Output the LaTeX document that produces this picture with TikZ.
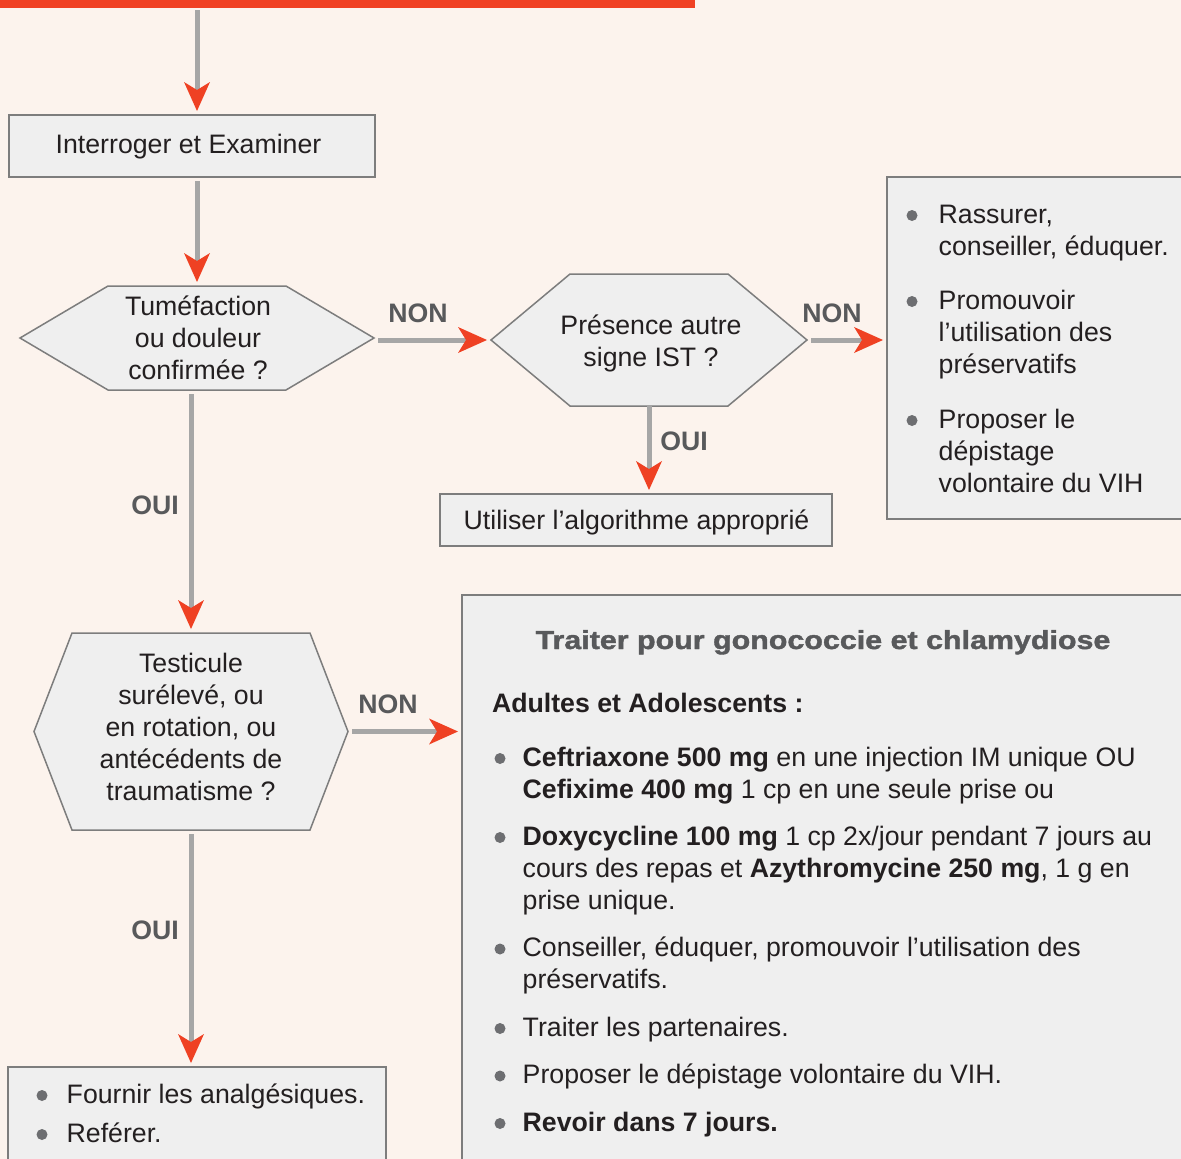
\documentclass[tikz,border=0pt]{standalone}
\usepackage{fontspec}
\setmainfont{Liberation Sans}
\newfontfamily\titlefont{Liberation Sans}[FakeStretch=1.17,BoldFeatures={FakeBold=1.5}]
\usetikzlibrary{arrows.meta,calc}

\definecolor{pagebg}{RGB}{252,243,237}
\definecolor{headred}{RGB}{240,65,36}
\definecolor{tipred}{RGB}{239,65,35}
\definecolor{linegray}{RGB}{166,166,166}
\definecolor{boxfill}{RGB}{239,239,239}
\definecolor{boxline}{RGB}{125,125,125}
\definecolor{ink}{RGB}{35,31,32}
\definecolor{labelgray}{RGB}{88,89,91}
\definecolor{bulletgray}{RGB}{109,110,113}

% list bullet: grey dot in a box of the given width
\newcommand\bul[1]{\makebox[#1][l]{\begin{tikzpicture}[baseline=0pt]
  \fill[bulletgray] (0pt,7.5pt) ++(5.5pt,0pt) circle[x radius=5.5pt, y radius=5.5pt];
  \end{tikzpicture}}}

% hexagonal decision outline drawn on the bounding node
\newcommand\hexa[2]{%
  \draw[hexline] (#1.west) -- ($(#1.north west)+(#2,0)$) -- ($(#1.north east)+(-#2,0)$)
    -- (#1.east) -- ($(#1.south east)+(-#2,0)$) -- ($(#1.south west)+(#2,0)$) -- cycle;}

\newcommand\bodysize{\fontsize{26.7}{32}\selectfont}

\begin{document}
\begin{tikzpicture}[x=1pt,y=-1pt,
  box/.style={draw=boxline, fill=boxfill, line width=1.5pt, inner sep=0pt, outer sep=0pt},
  frame/.style={inner sep=0pt, outer sep=0pt},
  hexline/.style={draw=boxline, fill=boxfill, line width=1.5pt, line join=miter},
  txt/.style={inner sep=0pt, outer sep=0pt, text=ink, font=\bodysize},
  lbl/.style={inner sep=0pt, text=labelgray, font=\bfseries\bodysize, anchor=base},
  conn/.style={draw=linegray, line width=5pt, shorten <=4pt, shorten >=4pt,
    -{Stealth[length=29pt,width=26pt,inset=8pt,color=tipred,line width=0pt]}},
]
\useasboundingbox (0,0) rectangle (1181,1159);
\clip (0,0) rectangle (1181,1159);
\fill[pagebg] (0,0) rectangle (1181,1159);
\fill[headred] (0,0) rectangle (695,7.5);

% ---- rectangular boxes
\node[box, minimum width=366pt, minimum height=62pt] (exam) at (192,146) {};
\node[txt, anchor=base] (examt) at (188.5,153) {Interroger et Examiner};

\node[box, minimum width=392pt, minimum height=52pt] (algo) at (636,520) {};
\node[txt, anchor=base] (algot) at (636.5,529) {Utiliser l’algorithme approprié};

\node[box, minimum width=303pt, minimum height=342pt] (calm) at (1038.5,348) {};
\node[box, minimum width=728pt, minimum height=575pt] (treat) at (826,882.5) {};
\node[box, minimum width=378pt, minimum height=103pt] (pain) at (197,1118.5) {};

% ---- decision hexagons
\node[frame, minimum width=354pt, minimum height=104pt] (q1) at (197,338) {};
\hexa{q1}{88}
\node[txt, anchor=base] (q1t) at (198,315) {\begin{tabular}[t]{@{}c@{}}Tuméfaction\\ ou douleur\\ confirmée ?\end{tabular}};

\node[frame, minimum width=316pt, minimum height=132pt] (q2) at (649,340) {};
\hexa{q2}{79}
\node[txt, anchor=base] (q2t) at (651,334) {\begin{tabular}[t]{@{}c@{}}Présence autre\\ signe IST ?\end{tabular}};

\node[frame, minimum width=314pt, minimum height=197pt] (q3) at (191,731.5) {};
\hexa{q3}{38}
\node[txt, anchor=base] (q3t) at (191,672) {\begin{tabular}[t]{@{}c@{}}Testicule\\ surélevé, ou\\ en rotation, ou\\ antécédents de\\ traumatisme ?\end{tabular}};

% ---- box contents
\node[txt, anchor=base west] (calmt) at (906.5,223) {\begin{tabular}[t]{@{}l@{}l@{}}
\bul{32.2pt} & Rassurer,\\
 & conseiller, éduquer.\\[22pt]
\bul{32.2pt} & Promouvoir\\
 & l’utilisation des\\
 & préservatifs\\[23pt]
\bul{32.2pt} & Proposer le\\
 & dépistage\\
 & volontaire du VIH
\end{tabular}};

\node[inner sep=0pt, text=labelgray, font=\titlefont\bfseries\fontsize{26}{32}\selectfont, anchor=base] (treattitle) at (823,649) {Traiter pour gonococcie et chlamydiose};
\node[txt, anchor=base west, font=\bfseries\bodysize] (treatsub) at (492,712) {Adultes et Adolescents :};

\node[txt, anchor=base west] (treatt) at (494.5,766) {\begin{tabular}[t]{@{}l@{}l@{}}
\bul{28.2pt} & \textbf{Ceftriaxone 500 mg} en une injection IM unique OU\\
 & \textbf{Cefixime 400 mg} 1 cp en une seule prise ou\\[15pt]
\bul{28.2pt} & \textbf{Doxycycline 100 mg} 1 cp 2x/jour pendant 7 jours au\\
 & cours des repas et \textbf{Azythromycine 250 mg}, 1 g en\\
 & prise unique.\\[15.5pt]
\bul{28.2pt} & Conseiller, éduquer, promouvoir l’utilisation des\\
 & préservatifs.\\[15.5pt]
\bul{28.2pt} & Traiter les partenaires.\\[15.5pt]
\bul{28.2pt} & Proposer le dépistage volontaire du VIH.\\[15.5pt]
\bul{28.2pt} & \textbf{Revoir dans 7 jours.}
\end{tabular}};

\node[txt, anchor=base west] (paint) at (36.5,1103) {\begin{tabular}[t]{@{}l@{}l@{}}
\bul{30.2pt} & Fournir les analgésiques.\\[7pt]
\bul{30.2pt} & Reférer.
\end{tabular}};

% ---- connectors
\coordinate (entry) at (197,6);
\draw[conn] (entry) -- (entry |- exam.north);
\draw[conn] (exam.south -| entry) -- (q1.north -| entry);
\draw[conn] (q1.east |- q2.west) -- (q2.west);
\draw[conn] (q2.east) -- (calm.west |- q2.east);
\draw[conn, shorten <=0pt] (q2.south) -- (algo.north -| q2.south);
\draw[conn] (q1.south -| q3.north) -- (q3.north);
\draw[conn] (q3.east) -- (treat.west |- q3.east);
\draw[conn] (q3.south) -- (pain.north -| q3.south);

% ---- branch labels
\node[lbl] (non1) at (418,322) {NON};
\node[lbl] (non2) at (832,322) {NON};
\node[lbl] (oui2) at (684,450) {OUI};
\node[lbl] (oui1) at (155,514) {OUI};
\node[lbl] (non3) at (388,713) {NON};
\node[lbl] (oui3) at (155,939) {OUI};
\end{tikzpicture}
\end{document}
